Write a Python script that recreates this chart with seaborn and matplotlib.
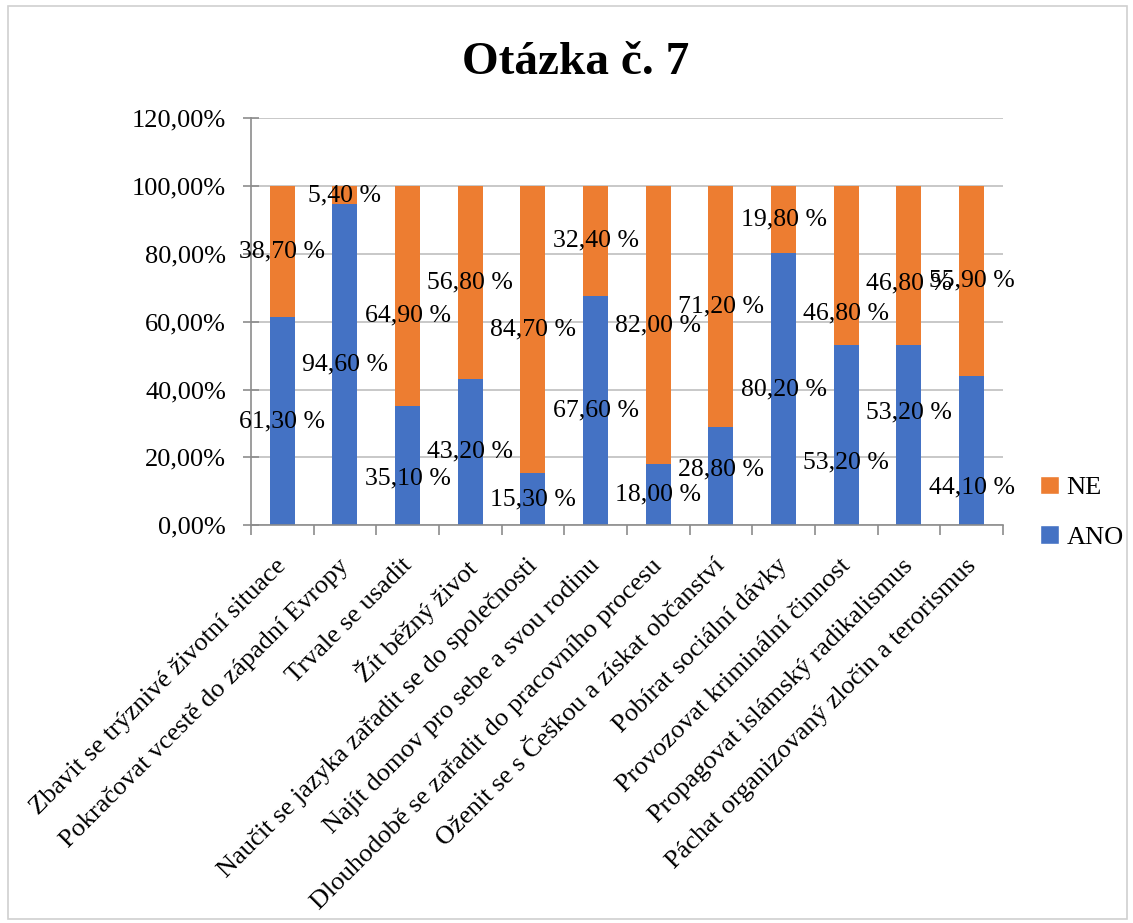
import matplotlib
matplotlib.use("Agg")
import matplotlib.pyplot as plt
import matplotlib.transforms as mtransforms
import seaborn as sns
import pandas as pd
import numpy as np
from matplotlib.patches import Rectangle, Patch
from matplotlib.ticker import FuncFormatter, MultipleLocator

categories = [
    "Zbavit se trýznivé životní situace",
    "Pokračovat vcestě do západní Evropy",
    "Trvale se usadit",
    "Žít běžný život",
    "Naučit se jazyka zařadit se do společnosti",
    "Najít domov pro sebe a svou rodinu",
    "Dlouhodobě se zařadit do pracovního procesu",
    "Oženit se s Češkou a získat občanství",
    "Pobírat sociální dávky",
    "Provozovat kriminální činnost",
    "Propagovat islámský radikalismus",
    "Páchat organizovaný zločin a terorismus",
]
ano = [61.3, 94.6, 35.1, 43.2, 15.3, 67.6, 18.0, 28.8, 80.2, 53.2, 53.2, 44.1]
ne = [38.7, 5.4, 64.9, 56.8, 84.7, 32.4, 82.0, 71.2, 19.8, 46.8, 46.8, 55.9]
title = "Otázka č. 7"

# label layout: vertical shifts (percentage points) of data labels
ano_shift = [0, 0, -3.8, 0, 0, 0, 0, 2.0, 0, -8.0, 6.5, -10.9]
ne_shift = [0, 0, -5.6, 0, 0, 0, 0, 0, 0, -14.2, -5.3, 0]

BLUE = "#4472C4"
ORANGE = "#ED7D31"

sns.set_theme(style="white")
plt.rcParams['font.family'] = ['Liberation Serif', 'DejaVu Serif']
plt.rcParams['text.color'] = 'black'
plt.rcParams['xtick.color'] = 'black'
plt.rcParams['ytick.color'] = 'black'

df = pd.DataFrame({"cat": categories, "ANO": ano, "NE": ne})

fig = plt.figure(figsize=(11.33, 9.23), dpi=100)
ax = fig.add_axes([0.2215, 0.431, 0.6637, 0.441])

sns.barplot(data=df, x="cat", y="ANO", color=BLUE, width=0.4, ax=ax,
            saturation=1, linewidth=0)
sns.barplot(data=df, x="cat", y="NE", color=ORANGE, width=0.4, ax=ax,
            saturation=1, linewidth=0, bottom=df["ANO"].values)

ax.set_xlim(-0.5, len(categories) - 0.5)
ax.set_ylim(0, 120)
ax.yaxis.set_major_locator(MultipleLocator(20))
ax.yaxis.set_major_formatter(FuncFormatter(lambda v, p: f"{v:.2f}%".replace(".", ",")))
ax.grid(axis="y", color="#BFBFBF", linewidth=1.2)
ax.set_axisbelow(True)
ax.set_xlabel("")
ax.set_ylabel("")

for s in ["top", "right"]:
    ax.spines[s].set_visible(False)
for s in ["left", "bottom"]:
    ax.spines[s].set_color("#8C8C8C")
    ax.spines[s].set_linewidth(1.2)

ax.tick_params(axis="y", which="major", left=True, direction="inout", length=11,
               width=1.2, color="#8C8C8C", labelcolor="black", labelsize=19, pad=12.5)
ax.set_xticks(np.arange(len(categories)))
ax.set_xticklabels(categories, rotation=45, ha="right", rotation_mode="anchor",
                   fontsize=19, color="black")
ax.tick_params(axis="x", which="major", length=0, pad=14)
ax.set_xticks(np.arange(-0.5, len(categories) + 0.5, 1), minor=True)
ax.tick_params(axis="x", which="minor", bottom=True, length=7, width=1.2,
               color="#8C8C8C")
offset = mtransforms.ScaledTranslation(-7 / 100, -10 / 100, fig.dpi_scale_trans)
for t in ax.get_xticklabels():
    t.set_transform(t.get_transform() + offset)

for i in range(len(categories)):
    ax.text(i, ano[i] / 2 + ano_shift[i], f"{ano[i]:.2f} %".replace(".", ","),
            ha="center", va="center", fontsize=18.5, color="black")
    ax.text(i, ano[i] + ne[i] / 2 + ne_shift[i], f"{ne[i]:.2f} %".replace(".", ","),
            ha="center", va="center", fontsize=18.5, color="black")

handles = [Patch(facecolor=ORANGE, label="NE"), Patch(facecolor=BLUE, label="ANO")]
fig.legend(handles=handles, loc="center left", bbox_to_anchor=(0.897, 0.445),
           frameon=False, fontsize=19, handlelength=0.7, handleheight=0.7,
           handletextpad=0.3, labelspacing=1.0)

fig.text(0.508, 0.932, title, ha="center", va="center", fontsize=34,
         fontweight="bold", color="black")

fig.patches.append(Rectangle((0.007, 0.004), 0.988, 0.99, transform=fig.transFigure,
                             fill=False, edgecolor="#D0D0D0", linewidth=1.2))

fig.savefig("out.png", dpi=100)
